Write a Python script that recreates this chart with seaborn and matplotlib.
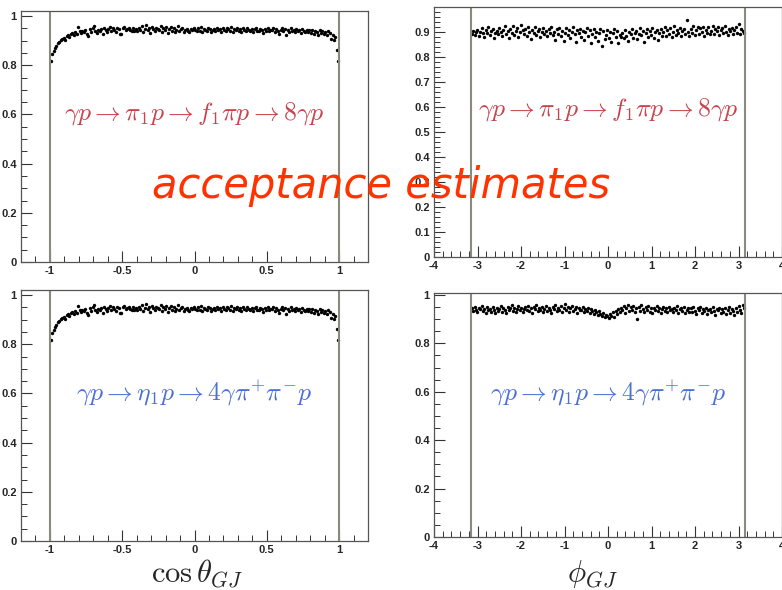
#-------------------------------------------
# Acceptance estimates: cos(theta_GJ) and phi_GJ
# for two reaction channels, ROOT-like panels
#-------------------------------------------

import numpy as np
import pandas as pd
import matplotlib
matplotlib.use("Agg")
import matplotlib.pyplot as plt
from matplotlib.ticker import MultipleLocator, FixedLocator
import seaborn as sns

#-----------------------DATA-----------------------------------

# acceptance in cos(theta_GJ), 200 bins on [-1, 1] (same for both channels)
cos_acc = [
    0.818, 0.845, 0.858, 0.870, 0.880, 0.889, 0.896, 0.903, 0.908, 0.913, 0.905, 0.918, 0.924, 0.915, 0.927, 0.932, 0.922, 0.935, 0.928, 0.954,
    0.938, 0.930, 0.941, 0.935, 0.944, 0.928, 0.918, 0.946, 0.937, 0.950, 0.962, 0.941, 0.933, 0.945, 0.938, 0.948, 0.929, 0.952, 0.943, 0.936,
    0.948, 0.957, 0.940, 0.951, 0.944, 0.935, 0.953, 0.946, 0.928, 0.929, 0.950, 0.955, 0.942, 0.949, 0.953, 0.944, 0.938, 0.950, 0.941, 0.947,
    0.939, 0.952, 0.945, 0.960, 0.934, 0.948, 0.965, 0.943, 0.951, 0.931, 0.955, 0.946, 0.938, 0.953, 0.949, 0.942, 0.958, 0.936, 0.950, 0.944,
    0.954, 0.930, 0.948, 0.957, 0.940, 0.953, 0.935, 0.945, 0.960, 0.938, 0.946, 0.952, 0.937, 0.944, 0.949, 0.941, 0.936, 0.947, 0.943, 0.950,
    0.945, 0.939, 0.952, 0.941, 0.955, 0.936, 0.948, 0.944, 0.940, 0.951, 0.946, 0.937, 0.943, 0.949, 0.939, 0.953, 0.942, 0.947, 0.935, 0.950,
    0.944, 0.938, 0.951, 0.946, 0.940, 0.955, 0.937, 0.948, 0.942, 0.953, 0.939, 0.947, 0.934, 0.950, 0.943, 0.938, 0.952, 0.945, 0.940, 0.948,
    0.936, 0.946, 0.951, 0.941, 0.938, 0.949, 0.944, 0.932, 0.947, 0.940, 0.953, 0.939, 0.945, 0.942, 0.950, 0.937, 0.946, 0.941, 0.928, 0.944,
    0.952, 0.939, 0.947, 0.925, 0.942, 0.936, 0.950, 0.941, 0.945, 0.934, 0.948, 0.938, 0.943, 0.930, 0.946, 0.940, 0.935, 0.944, 0.937, 0.942,
    0.933, 0.945, 0.928, 0.940, 0.936, 0.924, 0.942, 0.931, 0.938, 0.927, 0.935, 0.922, 0.939, 0.930, 0.908, 0.925, 0.905, 0.915, 0.862, 0.818,
]

# acceptance in phi_GJ, 200 bins on [-pi, pi], channel pi1 -> f1 pi -> 8 gamma
phi_acc_pi1 = [
    0.893, 0.905, 0.887, 0.899, 0.910, 0.884, 0.902, 0.915, 0.895, 0.880, 0.908, 0.897, 0.920, 0.889, 0.903, 0.912, 0.876, 0.898, 0.906, 0.891,
    0.917, 0.900, 0.885, 0.909, 0.923, 0.894, 0.903, 0.878, 0.912, 0.898, 0.925, 0.890, 0.905, 0.916, 0.882, 0.899, 0.928, 0.907, 0.893, 0.911,
    0.886, 0.919, 0.901, 0.873, 0.910, 0.895, 0.921, 0.888, 0.904, 0.914, 0.879, 0.900, 0.917, 0.892, 0.906, 0.884, 0.913, 0.897, 0.922, 0.889,
    0.902, 0.870, 0.911, 0.894, 0.918, 0.883, 0.905, 0.866, 0.898, 0.915, 0.887, 0.909, 0.875, 0.901, 0.920, 0.891, 0.860, 0.907, 0.896, 0.913,
    0.882, 0.904, 0.868, 0.899, 0.916, 0.886, 0.908, 0.855, 0.893, 0.911, 0.879, 0.902, 0.864, 0.897, 0.914, 0.845, 0.906, 0.872, 0.890, 0.909,
    0.876, 0.900, 0.862, 0.895, 0.912, 0.881, 0.904, 0.858, 0.889, 0.880, 0.898, 0.875, 0.907, 0.884, 0.866, 0.901, 0.892, 0.913, 0.878, 0.896,
    0.906, 0.871, 0.893, 0.915, 0.887, 0.903, 0.861, 0.898, 0.911, 0.882, 0.905, 0.890, 0.918, 0.876, 0.901, 0.909, 0.868, 0.895, 0.914, 0.886,
    0.899, 0.920, 0.884, 0.907, 0.893, 0.915, 0.879, 0.902, 0.924, 0.889, 0.910, 0.896, 0.918, 0.883, 0.905, 0.912, 0.891, 0.950, 0.900, 0.886,
    0.914, 0.897, 0.925, 0.888, 0.908, 0.921, 0.893, 0.916, 0.902, 0.922, 0.885, 0.910, 0.898, 0.919, 0.891, 0.906, 0.923, 0.894, 0.912, 0.903,
    0.920, 0.889, 0.908, 0.915, 0.896, 0.924, 0.901, 0.887, 0.913, 0.905, 0.918, 0.893, 0.910, 0.921, 0.898, 0.932, 0.894, 0.911, 0.903, 0.897,
]

# acceptance in phi_GJ, 200 bins on [-pi, pi], channel eta1 -> 4 gamma pi+ pi- p
phi_acc_eta1 = [
    0.945, 0.932, 0.951, 0.938, 0.928, 0.947, 0.940, 0.955, 0.933, 0.943, 0.925, 0.949, 0.936, 0.941, 0.930, 0.952, 0.938, 0.927, 0.946, 0.934,
    0.942, 0.953, 0.930, 0.945, 0.937, 0.926, 0.950, 0.939, 0.944, 0.958, 0.933, 0.947, 0.929, 0.941, 0.954, 0.936, 0.948, 0.931, 0.943, 0.951,
    0.938, 0.956, 0.934, 0.945, 0.927, 0.949, 0.940, 0.960, 0.932, 0.946, 0.937, 0.952, 0.929, 0.943, 0.955, 0.935, 0.948, 0.939, 0.924, 0.950,
    0.941, 0.957, 0.933, 0.946, 0.938, 0.953, 0.928, 0.944, 0.962, 0.936, 0.949, 0.931, 0.945, 0.955, 0.934, 0.942, 0.951, 0.927, 0.947, 0.939,
    0.936, 0.950, 0.929, 0.943, 0.933, 0.947, 0.925, 0.940, 0.934, 0.921, 0.938, 0.928, 0.916, 0.932, 0.922, 0.913, 0.926, 0.908, 0.918, 0.914,
    0.905, 0.922, 0.914, 0.928, 0.910, 0.935, 0.922, 0.941, 0.930, 0.948, 0.936, 0.953, 0.927, 0.945, 0.958, 0.933, 0.949, 0.938, 0.955, 0.929,
    0.946, 0.900, 0.952, 0.935, 0.960, 0.942, 0.929, 0.950, 0.937, 0.955, 0.931, 0.944, 0.927, 0.948, 0.939, 0.953, 0.933, 0.946, 0.925, 0.941,
    0.950, 0.934, 0.945, 0.928, 0.952, 0.938, 0.943, 0.930, 0.948, 0.936, 0.955, 0.927, 0.941, 0.947, 0.933, 0.950, 0.924, 0.939, 0.945, 0.931,
    0.944, 0.928, 0.949, 0.935, 0.922, 0.946, 0.938, 0.951, 0.926, 0.940, 0.933, 0.947, 0.921, 0.937, 0.943, 0.929, 0.952, 0.934, 0.918, 0.941,
    0.936, 0.948, 0.925, 0.940, 0.931, 0.945, 0.920, 0.938, 0.950, 0.927, 0.943, 0.934, 0.917, 0.946, 0.930, 0.955, 0.939, 0.926, 0.958, 0.944,
]

cos_edges = np.linspace(-1, 1, len(cos_acc) + 1)
cos_centers = 0.5 * (cos_edges[1:] + cos_edges[:-1])
phi_edges = np.linspace(-np.pi, np.pi, len(phi_acc_pi1) + 1)
phi_centers = 0.5 * (phi_edges[1:] + phi_edges[:-1])

label_pi1 = r"$\gamma p \rightarrow \pi_1 p \rightarrow f_1 \pi p \rightarrow 8\gamma p$"
label_eta1 = r"$\gamma p \rightarrow \eta_1 p \rightarrow 4\gamma\pi^{+}\pi^{-} p$"

red_txt = "#c9424c"
blue_txt = "#4a6fd6"
line_col = "#8a8a7a"

#-----------------------PLOTTING-------------------------------

sns.set_style("ticks")
plt.rcParams["mathtext.fontset"] = "cm"
plt.rcParams["font.family"] = ["Liberation Sans", "DejaVu Sans"]

fig = plt.figure(figsize=(7.82, 5.90), dpi=100)


def panel(rect, x, y, xlim, ylim, edges, xmin, ymin, yticks, xticks, txt, col):
    ax = fig.add_axes(rect)
    df = pd.DataFrame({"x": x, "y": y})
    sns.scatterplot(data=df, x="x", y="y", ax=ax, color="black", s=6, linewidth=0, legend=False)
    for e in edges:
        ax.axvline(e, color=line_col, lw=1.5, zorder=1)
    ax.set_xlim(*xlim)
    ax.set_ylim(*ylim)
    ax.xaxis.set_major_locator(FixedLocator(xticks))
    ax.xaxis.set_minor_locator(MultipleLocator(xmin))
    ax.yaxis.set_major_locator(FixedLocator(yticks))
    ax.yaxis.set_minor_locator(MultipleLocator(ymin))
    ax.set_xticklabels([("%g" % t) for t in xticks])
    ax.set_yticklabels([("%g" % t) for t in yticks])
    ax.tick_params(which="major", direction="in", length=8, width=0.8, color="#333333",
                   labelsize=8, pad=3, bottom=True, left=True, top=False, right=False)
    ax.tick_params(which="minor", direction="in", length=4, width=0.7, color="#333333",
                   bottom=True, left=True, top=False, right=False)
    for lab in ax.get_xticklabels() + ax.get_yticklabels():
        lab.set_fontweight("bold")
    for sp in ax.spines.values():
        sp.set_color("#555555")
        sp.set_linewidth(0.9)
    ax.set_xlabel("")
    ax.set_ylabel("")
    ax.text(0.5, 0.59, txt, transform=ax.transAxes, ha="center", va="center",
            color=col, fontsize=18.5)
    return ax


cos_ticks = [-1, -0.5, 0, 0.5, 1]
phi_ticks = [-4, -3, -2, -1, 0, 1, 2, 3, 4]

panel([21 / 782, 1 - 262 / 590, 347 / 782, 251 / 590], cos_centers, cos_acc,
      (-1.2, 1.2), (0, 1.021), [-1, 1], 0.1, 0.05,
      [0, 0.2, 0.4, 0.6, 0.8, 1], cos_ticks, label_pi1, red_txt)

panel([434 / 782, 1 - 257 / 590, 348 / 782, 250 / 590], phi_centers, phi_acc_pi1,
      (-4, 4), (0, 1.0), [-np.pi, np.pi], 0.2, 0.02,
      [0, 0.1, 0.2, 0.3, 0.4, 0.5, 0.6, 0.7, 0.8, 0.9], phi_ticks, label_pi1, red_txt)

panel([21 / 782, 1 - 541 / 590, 347 / 782, 251 / 590], cos_centers, cos_acc,
      (-1.2, 1.2), (0, 1.021), [-1, 1], 0.1, 0.05,
      [0, 0.2, 0.4, 0.6, 0.8, 1], cos_ticks, label_eta1, blue_txt)

panel([434 / 782, 1 - 537 / 590, 348 / 782, 244 / 590], phi_centers, phi_acc_eta1,
      (-4, 4), (0, 1.008), [-np.pi, np.pi], 0.2, 0.05,
      [0, 0.2, 0.4, 0.6, 0.8, 1], phi_ticks, label_eta1, blue_txt)

# axis titles under the bottom row
fig.text(197 / 782, 1 - 574 / 590, r"$\cos\theta_{GJ}$", ha="center", va="center", fontsize=22)
fig.text(592 / 782, 1 - 574 / 590, r"$\phi_{GJ}$", ha="center", va="center", fontsize=22)

# overlay headline
fig.text(381 / 782, 1 - 186 / 590, "acceptance estimates", ha="center", va="center",
         color="#ff3300", fontsize=30, style="italic", family=["DejaVu Sans"])

plt.savefig("out.png", dpi=100)
